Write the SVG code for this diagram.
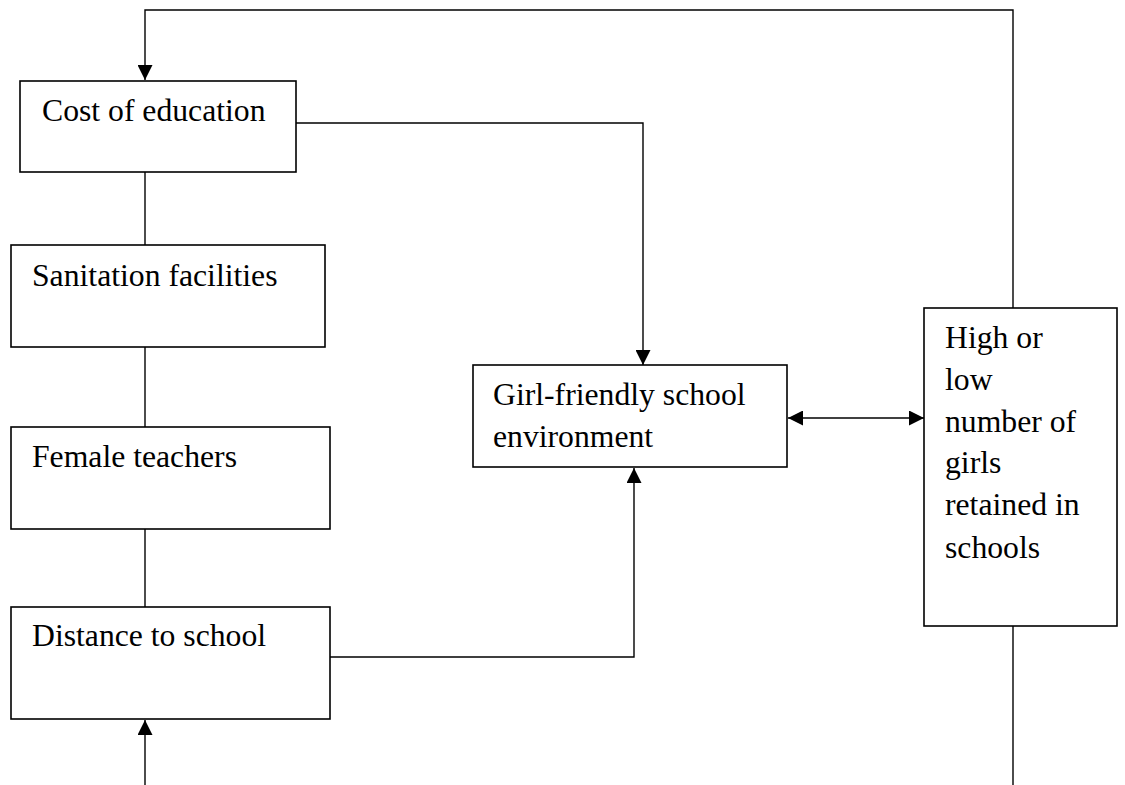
<svg xmlns="http://www.w3.org/2000/svg" width="1125" height="785" viewBox="0 0 1125 785">
<style>
.box{fill:#fff;stroke:#000;stroke-width:1.6}
.lbl{font-family:"Liberation Serif","Times New Roman",serif;font-size:31.7px;fill:#000}
.conn path{fill:none;stroke:#000;stroke-width:1.4}
</style>
<defs>
<marker id="ah" markerUnits="userSpaceOnUse" markerWidth="16" markerHeight="15" refX="15" refY="7.5" orient="auto-start-reverse" viewBox="0 0 16 15">
<path d="M0,0 L15,7.5 L0,15 z" fill="#000"/>
</marker>
</defs>
<rect width="1125" height="785" fill="#fff"/>
<g id="connectors" class="conn">
<path d="M1013,308 V10 H145 V80" marker-end="url(#ah)"/>
<path d="M296,123 H643 V365" marker-end="url(#ah)"/>
<path d="M145,172 V245"/>
<path d="M145,347 V427"/>
<path d="M145,529 V607"/>
<path d="M145,785 V720" marker-end="url(#ah)"/>
<path d="M330,657 H634 V468" marker-end="url(#ah)"/>
<path d="M788,418 H924" marker-start="url(#ah)" marker-end="url(#ah)"/>
<path d="M1013,626 V785"/>
</g>
<g id="cost">
<rect class="box" x="20" y="81" width="276" height="91"/>
<text class="lbl" x="42" y="120.7">Cost of education</text>
</g>
<g id="sanitation">
<rect class="box" x="11" y="245" width="314" height="102"/>
<text class="lbl" x="32" y="286">Sanitation facilities</text>
</g>
<g id="female">
<rect class="box" x="11" y="427" width="319" height="102"/>
<text class="lbl" x="32" y="467.3">Female teachers</text>
</g>
<g id="distance">
<rect class="box" x="11" y="607" width="319" height="112"/>
<text class="lbl" x="32" y="646">Distance to school</text>
</g>
<g id="girlfriendly">
<rect class="box" x="473" y="365" width="314" height="102"/>
<text class="lbl" x="493" y="405">Girl-friendly school</text>
<text class="lbl" x="493" y="446.7">environment</text>
</g>
<g id="retention">
<rect class="box" x="924" y="308" width="193" height="318"/>
<text class="lbl" x="945" y="348">High or</text>
<text class="lbl" x="945" y="390">low</text>
<text class="lbl" x="945" y="431.7">number of</text>
<text class="lbl" x="945" y="473">girls</text>
<text class="lbl" x="945" y="515">retained in</text>
<text class="lbl" x="945" y="558">schools</text>
</g>
</svg>
